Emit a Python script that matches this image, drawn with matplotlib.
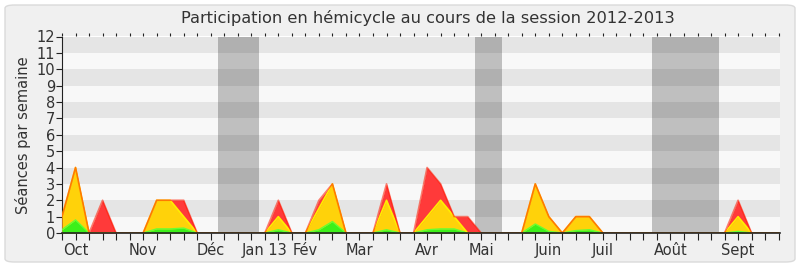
import matplotlib
matplotlib.use("Agg")
import matplotlib.pyplot as plt
from matplotlib.patches import FancyBboxPatch
import numpy as np

weeks = list(range(54))
seances = [1, 4, 0, 2, 0, 0, 0, 2, 2, 2, 0, 0, 0, 0, 0, 0, 2, 0, 0, 2, 3, 0, 0, 0, 3, 0, 0,
           4, 3, 1, 1, 0, 0, 0, 0, 3, 1, 0, 1, 1, 0, 0, 0, 0, 0, 0, 0, 0, 0, 0, 2, 0, 0, 0]
presences = [1, 4, 0, 0, 0, 0, 0, 2, 2, 1, 0, 0, 0, 0, 0, 0, 1, 0, 0, 1.5, 3, 0, 0, 0, 2, 0, 0,
             1, 2, 1, 0, 0, 0, 0, 0, 3, 1, 0, 1, 1, 0, 0, 0, 0, 0, 0, 0, 0, 0, 0, 1, 0, 0, 0]
interventions = [0.2, 0.8, 0, 0, 0, 0, 0, 0.25, 0.25, 0.3, 0, 0, 0, 0, 0, 0, 0.2, 0, 0, 0.2, 0.7, 0, 0, 0, 0.2, 0, 0,
                 0.2, 0.25, 0.25, 0, 0, 0, 0, 0, 0.55, 0.1, 0, 0.15, 0.2, 0, 0, 0, 0, 0, 0, 0, 0, 0, 0, 0.1, 0, 0, 0]
month_ticks = [1, 6, 11, 15, 18, 22, 27, 31, 36, 40, 45, 50]
month_labels = ["Oct", "Nov", "Déc", "Jan 13", "Fév", "Mar", "Avr", "Mai", "Juin", "Juil", "Août", "Sept"]
holidays = [(11.55, 14.55), (30.55, 32.55), (43.6, 48.6)]

fig = plt.figure(figsize=(8, 2.67), dpi=100)
fig.patch.set_facecolor("white")
panel = FancyBboxPatch((5 / 800, 5 / 267), 790 / 800, 257 / 267,
                       boxstyle="round,pad=0,rounding_size=0.012",
                       transform=fig.transFigure, facecolor="#f0f0f0",
                       edgecolor="#dadada", linewidth=1, zorder=-10)
fig.patches.append(panel)

ax = fig.add_axes([62 / 800, (267 - 233) / 267, (780 - 62) / 800, (233 - 36.5) / 267])
ax.set_zorder(5)
ax.set_facecolor("#f8f8f8")

for a, b in holidays:
    ax.axvspan(a, b, color="#bfbfbf", lw=0, zorder=1)
for lo in range(1, 12, 2):
    ax.axhspan(lo, lo + 1, color="black", alpha=0.075, lw=0, zorder=2)

x = np.array(weeks)
ax.fill_between(x, 0, seances, color="#ff3a3a", lw=0, zorder=3)
ax.fill_between(x, 0, presences, color="#ffd20a", lw=0, zorder=4)
ax.fill_between(x, 0, interventions, color="#3cf01a", lw=0, zorder=5)
ax.plot(x, interventions, color="#66ff33", lw=1, zorder=6)
ax.plot(x, presences, color="#ffee00", lw=1.2, zorder=6)
ax.plot(x, seances, color="#ff1a00", lw=1.2, alpha=0.55, zorder=7)

ax.set_xlim(0, 53.1)
ax.set_ylim(0, 12)
ax.set_yticks(range(13))
ax.set_yticklabels([str(i) for i in range(13)], fontsize=10.5, color="#333333")
ax.set_xticks(weeks)
lab = [""] * len(weeks)
for t, l in zip(month_ticks, month_labels):
    lab[t] = l
ax.set_xticklabels(lab, fontsize=10.5, color="#333333")
ax.tick_params(axis="x", length=5, width=0.8, color="#222222", pad=2, top=False)
ax.tick_params(axis="y", length=4, width=0.8, color="#222222", pad=1)
for s in ["top", "right"]:
    ax.spines[s].set_visible(False)
ax.spines["left"].set_color("#222222")
ax.spines["bottom"].set_color("#222222")
ax.spines["bottom"].set_linewidth(1.2)
ax.spines["bottom"].set_zorder(8)

# small top tick marks
sec = ax.secondary_xaxis("top")
sec.set_xticks(weeks)
sec.set_xticklabels([])
sec.tick_params(length=2, width=0.8, color="#222222", direction="out")
sec.spines["top"].set_visible(False)

ax.set_ylabel("Séances par semaine", fontsize=10.5, color="#333333", labelpad=4)
fig.text(428 / 800, (267 - 18) / 267, "Participation en hémicycle au cours de la session 2012-2013",
         ha="center", va="center", fontsize=11.7, color="#333333")

fig.savefig("out.png", dpi=100, facecolor="white")
